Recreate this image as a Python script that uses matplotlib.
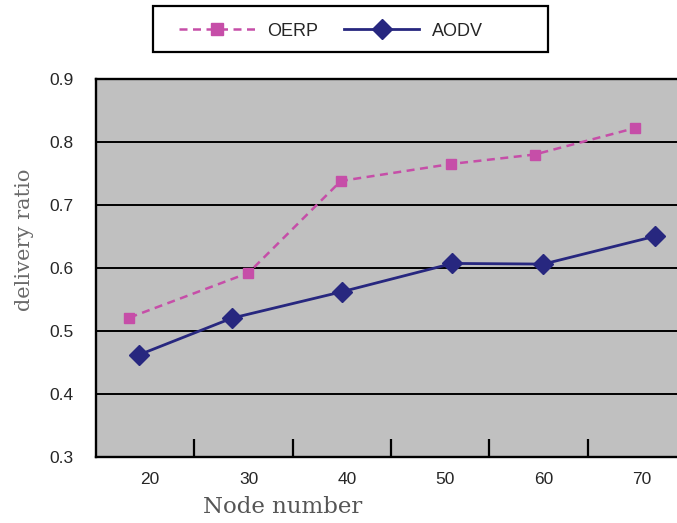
import matplotlib
matplotlib.use("Agg")
import matplotlib.pyplot as plt
import matplotlib.transforms as mtransforms
from matplotlib.lines import Line2D
from matplotlib.patches import Rectangle

# ---- data ----
node_labels = [20, 30, 40, 50, 60, 70]
oerp_x = [18.4, 30.5, 39.9, 51.1, 59.6, 69.8]
oerp_y = [0.521, 0.592, 0.738, 0.765, 0.780, 0.822]
aodv_x = [19.4, 28.8, 40.0, 51.25, 60.5, 71.8]
aodv_y = [0.462, 0.520, 0.562, 0.607, 0.606, 0.650]
y_ticks = [0.3, 0.4, 0.5, 0.6, 0.7, 0.8, 0.9]

W, H = 677, 523
fig = plt.figure(figsize=(W / 100, H / 100), dpi=100)
fig.patch.set_facecolor("white")

ax = fig.add_axes([96 / W, 1 - 456.7 / H, 590 / W, 377.7 / H])
ax.set_facecolor("#c0c0c0")

pink = "#c64ea8"
navy = "#27277f"
dash = (0, (3.2, 2.2))

ax.plot(oerp_x, oerp_y, color=pink, lw=1.8, ls=dash,
        marker="s", ms=7.8, mfc=pink, mec=pink, zorder=3)
ax.plot(aodv_x, aodv_y, color=navy, lw=2.0, ls="-",
        marker="D", ms=10, mfc=navy, mec=navy, zorder=3)

ax.set_xlim(15, 75)
ax.set_ylim(0.3, 0.9)

# horizontal gridlines
for yv in y_ticks[1:-1]:
    ax.axhline(yv, color="black", lw=1.4, zorder=1)

ax.set_yticks(y_ticks)
ax.set_yticklabels([f"{v:.1f}" for v in y_ticks])
ax.tick_params(axis="y", length=0, pad=16, labelsize=12.5, labelcolor="#262626")

# category boundaries as major ticks, labels as minor ticks
bounds = [(a + b) / 2 for a, b in zip(node_labels[:-1], node_labels[1:])]
ax.set_xticks(bounds)
ax.set_xticklabels([])
ax.tick_params(axis="x", which="major", direction="in", length=13, width=1.6, color="black")
ax.set_xticks(node_labels, minor=True)
ax.set_xticklabels([str(v) for v in node_labels], minor=True)
ax.tick_params(axis="x", which="minor", length=0, pad=11, labelsize=12.5, labelcolor="#262626")

offset = mtransforms.ScaledTranslation(5 / 100, 0, fig.dpi_scale_trans)
for lab in ax.get_xticklabels(minor=True):
    lab.set_family("Liberation Sans")
    lab.set_transform(lab.get_transform() + offset)
for lab in ax.get_yticklabels():
    lab.set_family("Liberation Sans")

for sp in ["left", "bottom", "top"]:
    ax.spines[sp].set_linewidth(1.7)
    ax.spines[sp].set_color("black")
ax.spines["right"].set_visible(False)

fig.text(25 / W, 1 - 240 / H, "delivery ratio", rotation=90, ha="center", va="center",
         family="DejaVu Serif", fontsize=15, color="#6a6a6a")
fig.text(283 / W, 1 - 507 / H, "Node number", ha="center", va="center",
         family="DejaVu Serif", fontsize=16.5, color="#555555")

# legend
fig.patches.append(Rectangle((153 / W, 1 - 52 / H), (548 - 153) / W, 46 / H,
                             transform=fig.transFigure, fill=False,
                             edgecolor="black", lw=1.6))
handles = [
    Line2D([], [], color=pink, lw=1.8, ls=dash, marker="s", ms=8.5, mfc=pink, mec=pink),
    Line2D([], [], color=navy, lw=2.0, marker="D", ms=10, mfc=navy, mec=navy),
]
leg = fig.legend(handles, ["OERP", "AODV"], loc="center", ncol=2,
                 bbox_to_anchor=(331 / W, 1 - 31 / H), frameon=False,
                 handlelength=4.2, handletextpad=0.7, columnspacing=1.4,
                 prop={"family": "Liberation Sans", "size": 13}, borderpad=0)
for t in leg.get_texts():
    t.set_color("#262626")

fig.savefig("out.png", dpi=100)
